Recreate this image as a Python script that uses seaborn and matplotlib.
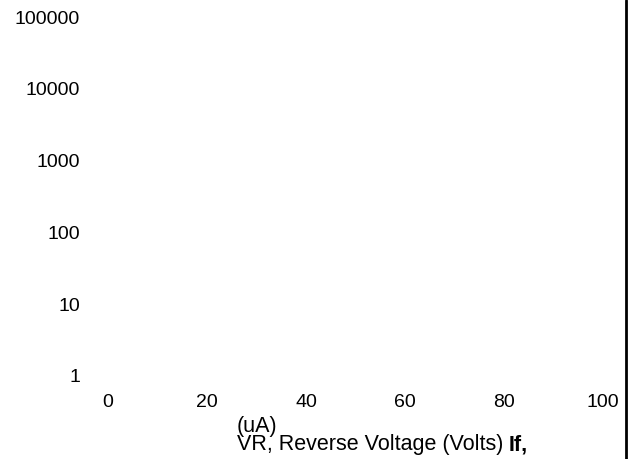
import matplotlib
matplotlib.use("Agg")
import matplotlib.pyplot as plt
from matplotlib.lines import Line2D
import seaborn as sns

# axis ticks (no curves drawn in the reference)
voltage_ticks = [0, 20, 40, 60, 80, 100]
current_ticks = [1, 10, 100, 1000, 10000, 100000]
current_labels = ["1", "10", "100", "1000", "10000", "100000"]

x_label = "VR, Reverse Voltage (Volts)"
y_label_bold = "If,"
y_unit = "(uA)"

sns.set_theme(style="white")
plt.rcParams['font.family'] = ['Liberation Sans', 'DejaVu Sans']

fig = plt.figure(figsize=(6.43, 4.59), dpi=100)
ax = fig.add_axes([108 / 643, 83 / 459, 495 / 643, 359 / 459])
ax.set_facecolor("white")

ax.set_xlim(voltage_ticks[0], voltage_ticks[-1])
ax.set_yscale("log")
ax.set_ylim(current_ticks[0], current_ticks[-1])
ax.set_xticks(voltage_ticks)
ax.set_xticklabels([str(v) for v in voltage_ticks])
ax.set_yticks(current_ticks)
ax.set_yticklabels(current_labels)
ax.minorticks_off()
ax.tick_params(axis="both", length=0, labelsize=14, colors="black")
ax.tick_params(axis="y", pad=20)
ax.tick_params(axis="x", pad=13)
sns.despine(ax=ax, left=True, bottom=True, right=True, top=True)

# x label with the bold "If," sitting on the same baseline right after it
t = fig.text(237 / 643, 9 / 459, x_label, fontsize=15.5, color="black",
             ha="left", va="baseline")
fig.canvas.draw()
end_x = fig.transFigure.inverted().transform(
    t.get_window_extent(fig.canvas.get_renderer()).get_points())[1, 0]
fig.text(end_x + 5 / 643, 9 / 459, y_label_bold, fontsize=15.5, fontweight="bold",
         color="black", ha="left", va="baseline")
fig.text(237 / 643, 27 / 459, y_unit, fontsize=15.5, color="black",
         ha="left", va="baseline")

fig.add_artist(Line2D([626 / 643, 626 / 643], [0, 1], transform=fig.transFigure,
                      color="black", lw=2))

fig.savefig("out.png", dpi=100, facecolor="white")
